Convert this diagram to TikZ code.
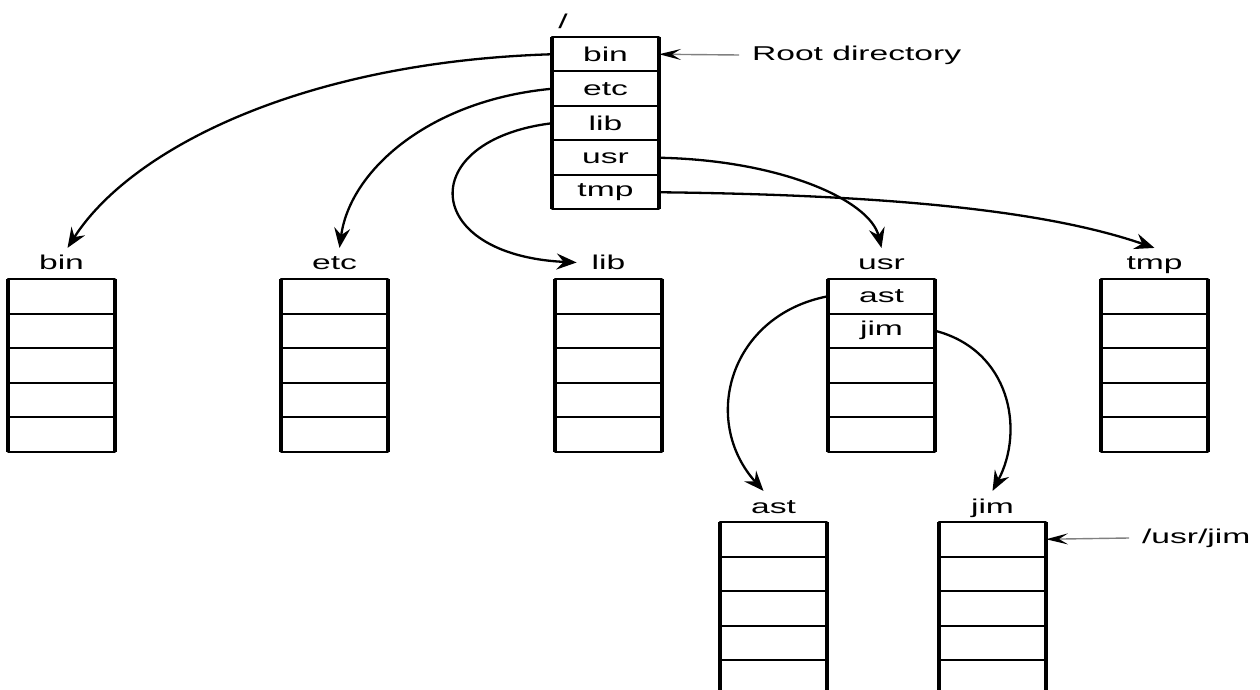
\documentclass[tikz,border=0pt]{standalone}
\usepackage{fontspec}
\setmainfont{Liberation Sans}[FakeStretch=1.68]
\usepackage{tikz}
\usetikzlibrary{positioning,calc,arrows.meta}
\tikzset{>={Stealth[length=10pt,width=8pt,inset=3.5pt]}}

\tikzset{
  slot/.style={draw, line width=1pt, minimum width=53.5pt, minimum height=17.25pt,
    inner sep=0pt, outer sep=0pt},
  side/.style={line width=1.7pt},
  tag/.style={anchor=base, text height=7.5pt, text depth=0pt},
  link/.style={->, line width=1.15pt},
  hint/.style={-{Stealth[length=11pt,width=5.5pt,inset=4.5pt,black]}, gray, line width=0.7pt},
}

% one directory: #1 name, #2 upper left corner, #3 entries
\newcommand{\dirtable}[3]{%
  \foreach \e [count=\i] in {#3} {
    \ifnum\i=1
      \node[slot, anchor=north west] (#1-1) at (#2) {\e};
    \else
      \pgfmathtruncatemacro{\j}{\i-1}
      \node[slot, below=0pt of #1-\j] (#1-\i) {\e};
    \fi
  }
  \draw[side] (#1-1.north west) -- (#1-5.south west);
  \draw[side] (#1-1.north east) -- (#1-5.south east);
}

\begin{document}
\begin{tikzpicture}[x=0.5pt,y=-0.5pt,line join=round]
	\useasboundingbox (0,0) rectangle (1260,690);
	\clip (0,0) rectangle (1260,690);

	% root
	\dirtable{root}{552,37}{bin,etc,lib,usr,tmp}
	\node[tag] (slash) at (563,29) {/};
	\node[anchor=west] (rootnote) at (745,55) {Root directory};
	\draw[hint] ([xshift=-3pt]rootnote.west) -- (root-1.east);

	% second level
	\dirtable{bin}{8,279}{{},{},{},{},{}}
	\dirtable{etc}{281,279}{{},{},{},{},{}}
	\dirtable{lib}{555,279}{{},{},{},{},{}}
	\dirtable{usr}{828,279}{ast,jim,{},{},{}}
	\dirtable{tmp}{1101,279}{{},{},{},{},{}}
	\foreach \d in {bin,etc,lib,usr,tmp}
	  \node[above=4.5pt of \d-1.north, tag] (\d-name) {\d};

	% under usr
	\dirtable{ast}{720,522}{{},{},{},{},{}}
	\dirtable{jim}{939,522}{{},{},{},{},{}}
	\node[above=4.5pt of ast-1.north, tag] (ast-name) {ast};
	\node[above=4.5pt of jim-1.north, tag] (jim-name) {jim};
	\node[anchor=west] (jimnote) at (1135,538) {/usr/jim};
	\draw[hint] ([xshift=-3pt]jimnote.west) -- (jim-1.east);

	% entries point to their directories
	\draw[link] (root-1.west) .. controls (300,62) and (130,150) .. ([xshift=3pt]bin-name.north);
	\draw[link] (root-2.west) .. controls (430,100) and (350,170) .. ([xshift=2.5pt]etc-name.north);
	\draw[link] (root-3.west) .. controls (415,140) and (420,255) .. ([xshift=-4pt]lib-name.west);
	\draw[link] (root-4.east) .. controls (780,160) and (870,200) .. (usr-name.north);
	\draw[link] (root-5.east) .. controls (900,195) and (1050,212) .. (tmp-name.north);
	\draw[link] (usr-1.west) .. controls (730,315) and (700,420) .. ([xshift=-5pt]ast-name.north);
	\draw[link] (usr-2.east) .. controls (1010,350) and (1025,430) .. (jim-name.north);
\end{tikzpicture}
\end{document}
